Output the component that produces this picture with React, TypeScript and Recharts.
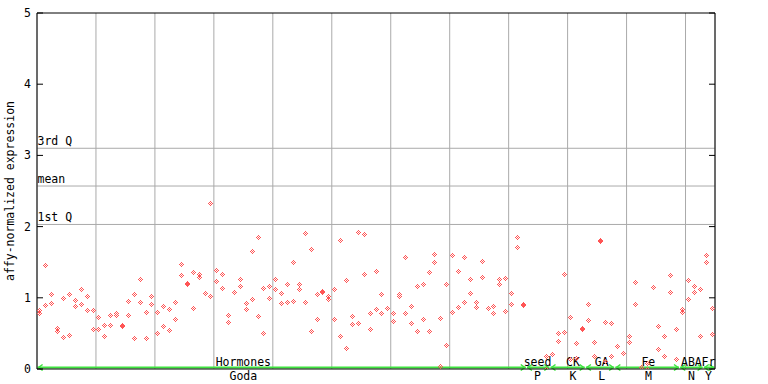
import { ScatterChart, Scatter, XAxis, YAxis, CartesianGrid, ReferenceLine } from "recharts"

// two replicate values per sample position (null = not shown)
const rep1 = [
  0.82, 1.46, 1.04, 0.57, 0.99, 1.04, 0.96, 1.11, 1.02, 0.82,
  0.73, 0.61, 0.75, 0.78, 0.61, 0.95, 1.04, 1.26, 0.8, 1.02,
  0.8, 0.88, 0.84, 0.94, 1.47, 1.19, 1.36, 1.33, 1.06, 2.32,
  1.39, 1.33, 0.75, 1.08, 1.26, 0.92, 1.65, 1.84, 1.13, 1.16,
  1.26, 1.06, 1.18, 1.5, 1.19, 1.91, 1.68, 1.05, 1.07, 1.02,
  1.11, 1.8, 1.25, 0.74, 1.92, 1.89, 0.78, 1.37, 1.05, 0.85,
  0.78, 1.05, 1.56, 0.88, 1.16, 1.18, 1.35, 1.61, 0.71, 1.19,
  1.6, 1.37, 1.57, 1.26, 0.94, 1.51, 0.85, 0.88, 1.26, 1.27,
  1.06, 1.85, 0.9, null, null, null, 0.18, 0.21, 0.5, 1.33,
  0.73, 0.36, 0.56, 0.91, 0.37, 1.8, 0.66, 0.64, 0.32, 0.22,
  0.46, 1.22, 0.02, 0.08, 1.15, 0.59, 0.45, 1.32, 0.56, 0.83,
  1.25, 1.16, 1.11, 1.6, 0.85,
]
const rep2 = [
  0.78, 0.89, 0.92, 0.52, 0.44, 0.47, 0.88, 0.91, 0.82, 0.56,
  0.56, 0.45, 0.61, 0.755, 0.595, 0.75, 0.43, 0.94, 0.43, 0.9,
  0.5, 0.59, 0.54, 0.7, 1.32, 1.205, 0.85, 1.28, 1.06, 1.02,
  1.23, 1.13, 0.66, 1.08, 1.16, 0.84, 0.97, 0.74, 0.5, 0.99,
  1.12, 0.92, 0.94, 0.95, 1.12, 0.94, 0.53, 0.7, 1.085, 0.97,
  0.7, 0.46, 0.29, 0.63, 0.64, 1.33, 0.56, 0.83, 0.78, 0.85,
  0.67, 1.02, 0.78, 0.64, 0.52, 0.7, 0.52, 1.49, 0.04, 0.33,
  0.8, 0.87, 0.94, 1.06, 0.87, 1.28, 0.85, 0.78, 1.18, 0.81,
  0.9, 1.71, 0.885, null, null, null, 0.0, null, 0.39, 0.51,
  0.14, 0.15, 0.575, 0.68, 0.18, 1.785, 0.11, 0.18, null, null,
  0.37, 0.9, null, 0.0, null, 0.28, 0.18, 1.08, 0.14, 0.8,
  0.98, 1.08, 0.45, 1.5, 0.49,
]

const groupTop = ["Hormones", "seed", "CK", "GA", "Fe", "ABA", "Fr"]
const groupBottom = ["Goda", "P", "K", "L", "M", "N", "Y"]
const groupFrom = [0, 83, 87, 93, 98, 109, 113]
const groupTo = [82, 86, 92, 97, 108, 112, 114]
const groupLabelAt = [34.5, 84.4, 90.4, 95.3, 103.2, 110.5, 113.4]

const statNames = ["3rd Q", "mean", "1st Q"]
const statValues = [3.1, 2.57, 2.03]

const yTicks = [0, 1, 2, 3, 4, 5]
const gridX = [9.5, 19.5, 29.5, 39.5, 49.5, 59.5, 69.5, 79.5, 89.5, 99.5, 109.5]

const FONT = "'DejaVu Sans Mono', monospace"
const RED = "#ff5555"
const GREEN = "#3fe33f"
const GRID = "#aaaaaa"

const toPoints = (vals: (number | null)[]) =>
  vals.flatMap((v, i) => (v == null ? [] : [{ x: i, y: v }]))

function Diamond(props: any) {
  const { cx, cy } = props
  if (cx == null || cy == null || isNaN(cx) || isNaN(cy)) return null
  const x0 = Math.floor(cx)
  const y0 = Math.floor(cy)
  let d = ""
  for (let dy = -2; dy <= 2; dy++) {
    for (let dx = -2; dx <= 2; dx++) {
      if (Math.abs(dx) + Math.abs(dy) <= 2 && Math.abs(dx + dy) % 2 === 0) {
        d += `M${x0 + dx},${y0 + dy}h1v1h-1z`
      }
    }
  }
  return <path d={d} fill={RED} />
}

function NoTick() {
  return <g />
}

function LeftTick(props: any) {
  const { x, y, payload } = props
  return (
    <g>
      <line x1={x + 6} x2={x + 12} y1={y} y2={y} stroke="#000" />
      <text x={x} y={y} dy={4} textAnchor="end" fontFamily={FONT} fontSize={11.5} fill="#000">
        {payload.value}
      </text>
    </g>
  )
}

function RightTick(props: any) {
  const { x, y } = props
  return <line x1={x - 6} x2={x} y1={y} y2={y} stroke="#000" />
}

function YLabel(props: any) {
  const vb = props.viewBox || {}
  const cx = 10
  const cy = vb.height ? vb.y + vb.height / 2 : 191
  return (
    <text
      x={cx}
      y={cy}
      transform={`rotate(-90 ${cx} ${cy})`}
      textAnchor="middle"
      dominantBaseline="central"
      fontFamily={FONT}
      fontSize={11.5}
      fill="#000"
    >
      affy-normalized expression
    </text>
  )
}

function StatLabel(props: any) {
  const vb = props.viewBox || {}
  return (
    <text x={vb.x + 0.5} y={vb.y - 3.5} fontFamily={FONT} fontSize={11.5} fill="#000">
      {props.name}
    </text>
  )
}

function GroupLine(props: any) {
  const { x1, x2, y1 } = props
  const y = y1 - 1.5
  return (
    <g stroke={GREEN} fill="none" strokeWidth={2}>
      <line x1={x1} x2={x2} y1={y} y2={y} />
      <polyline points={`${x1 + 5},${y - 3} ${x1 + 1},${y} ${x1 + 5},${y + 3}`} strokeWidth={1.5} />
      <polyline points={`${x2 - 5},${y - 3} ${x2 - 1},${y} ${x2 - 5},${y + 3}`} strokeWidth={1.5} />
    </g>
  )
}

function GroupLabel(props: any) {
  const vb = props.viewBox || {}
  const bottom = vb.y + vb.height
  return (
    <g fontFamily={FONT} fontSize={11.5} fill="#000" textAnchor="middle">
      <text x={vb.x} y={bottom - 3}>{props.top}</text>
      <text x={vb.x} y={bottom + 11}>{props.bottom}</text>
    </g>
  )
}

export default function App() {
  return (
    <div style={{ position: "absolute", left: 0, top: 0, background: "#fff" }}>
      <ScatterChart width={768} height={384} margin={{ top: 13, right: 52, bottom: 0, left: 0 }}>
        <CartesianGrid horizontal={false} stroke={GRID} />
        <XAxis
          type="number"
          dataKey="x"
          domain={[-0.5, 114.5]}
          ticks={gridX}
          tick={<NoTick />}
          tickLine={false}
          axisLine={{ stroke: "#000" }}
          height={15}
          interval={0}
          allowDataOverflow
        />
        <YAxis
          type="number"
          dataKey="y"
          domain={[0, 5]}
          ticks={yTicks}
          width={37}
          tickSize={0}
          tickMargin={6}
          tickLine={false}
          tick={<LeftTick />}
          axisLine={{ stroke: "#000" }}
          label={<YLabel />}
          allowDataOverflow
        />
        <YAxis
          yAxisId="r"
          orientation="right"
          type="number"
          domain={[0, 5]}
          ticks={yTicks}
          width={1}
          tickSize={0}
          tickMargin={0}
          tickLine={false}
          tick={<RightTick />}
          axisLine={{ stroke: "#000" }}
          allowDataOverflow
        />
        <ReferenceLine y={5} stroke="#000" />
        {statValues.map((v, i) => (
          <ReferenceLine key={statNames[i]} y={v} stroke={GRID} label={<StatLabel name={statNames[i]} />} />
        ))}
        <Scatter data={toPoints(rep1)} shape={<Diamond />} isAnimationActive={false} />
        <Scatter data={toPoints(rep2)} shape={<Diamond />} isAnimationActive={false} />
        {groupTop.map((name, i) => (
          <ReferenceLine
            key={"seg" + name}
            segment={[
              { x: groupFrom[i] - 0.4, y: 0 },
              { x: groupTo[i] + 0.4, y: 0 },
            ]}
            stroke={GREEN}
            shape={<GroupLine />}
          />
        ))}
        {groupTop.map((name, i) => (
          <ReferenceLine
            key={"lab" + name}
            x={groupLabelAt[i]}
            stroke="none"
            label={<GroupLabel top={name} bottom={groupBottom[i]} />}
          />
        ))}
      </ScatterChart>
    </div>
  )
}
